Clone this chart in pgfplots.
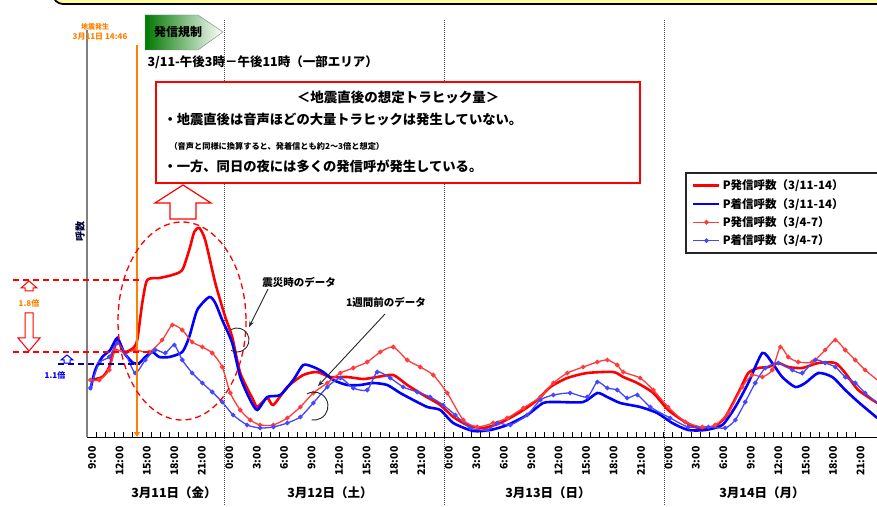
\documentclass[border=0pt]{standalone}
\usepackage{fontspec}
\setmainfont{Noto Sans CJK JP}
\usepackage{pgfplots}
\pgfplotsset{compat=1.18}
\usetikzlibrary{arrows.meta}
\definecolor{rthin}{RGB}{255,60,60}
\definecolor{bthin}{RGB}{70,70,255}
\definecolor{orng}{RGB}{255,128,0}
\definecolor{gfill}{RGB}{0,120,0}
\definecolor{ylw}{RGB}{255,255,153}
\newcommand{\fs}[1]{\fontsize{#1}{#1}\selectfont}
\begin{document}
\begin{tikzpicture}
\useasboundingbox (0,0) rectangle (877pt,506pt);
\clip (0,0) rectangle (877pt,506pt);
\begin{scope}[x=1pt,y=-1pt,yshift=506pt]
 \draw[line width=1.8pt, fill=ylw, rounded corners=10pt] (53,-40) rectangle (920,4);
 \foreach \xx in {224,444,664} \draw[densely dotted, line width=1pt, black!70] (\xx,20) -- (\xx,506);
 \draw[black!85, line width=1.6pt, fill=white] (686,173) rectangle (900,253);
\end{scope}
\begin{axis}[
 at={(87pt,69pt)}, anchor=south west,
 scale only axis, width=790pt, height=407pt,
 xmin=9, xmax=95.34, ymin=-5, ymax=402,
 axis x line=bottom, axis y line=left,
 x axis line style={-, black, line width=0.8pt},
 y axis line style={-, gray, line width=2pt},
 ytick=\empty,
 xtick={9,12,...,93},
 xticklabels={9:00,12:00,15:00,18:00,21:00,0:00,3:00,6:00,9:00,12:00,15:00,18:00,21:00,0:00,3:00,6:00,9:00,12:00,15:00,18:00,21:00,0:00,3:00,6:00,9:00,12:00,15:00,18:00,21:00},
 minor x tick num=2,
 tick align=inside,
 major tick length=5pt, minor tick length=5pt,
 tick style={black, line width=0.6pt},
 xticklabel style={font=\fs{10.5}\bfseries, xshift=5pt, rotate=90, anchor=east},
 xticklabel shift=6pt,
 legend style={at={(0.762,0.645)}, anchor=north west, draw=none, fill=none, font=\fs{11.5}\bfseries, row sep=3pt, inner sep=3pt},
 legend cell align=left,
 legend image code/.code={\draw[mark repeat=2,mark phase=2,#1] plot coordinates {(0pt,0pt) (13pt,0pt) (26pt,0pt)};},
]
\addplot[red, line width=2.6pt, smooth, tension=0.4] coordinates {
(9.36,52) (10.67,55) (11.43,65) (12.31,92) (13.07,80) (14.05,84) (14.49,92) (15.04,129) (15.58,152) (16.90,154) (18.32,157) (19.41,162) (20.17,182) (20.72,200) (21.27,204) (21.92,192) (23.02,149) (24.11,115) (24.87,95) (25.75,59) (27.17,32) (27.61,25) (28.70,34) (29.36,27) (30.89,45) (32.63,57) (34.16,60) (35.58,55) (37.44,55) (39.19,53) (40.72,55) (42.47,57) (44.00,47) (45.75,37) (47.61,27) (49.03,15) (50.56,7) (52.31,4) (54.16,9) (56.35,20) (58.21,32) (59.63,45) (61.49,54) (63.67,59) (66.51,60) (67.61,55) (69.14,49) (70.89,39) (72.52,22) (74.38,10) (75.80,4) (77.33,4) (78.75,15) (80.17,39) (81.27,59) (82.36,64) (83.45,65) (84.55,69) (85.64,65) (87.17,64) (88.92,69) (90.78,69) (91.87,59) (93.29,42) (95.37,29)};
\addlegendentry{P発信呼数（3/11-14）}
\addplot[blue, line width=2.6pt, smooth, tension=0.4] coordinates {
(9.36,42) (9.90,62) (10.67,75) (11.54,82) (12.31,94) (13.07,79) (14.05,69) (14.71,69) (15.37,75) (16.13,80) (16.90,75) (17.99,75) (19.41,80) (20.17,95) (21.05,122) (22.36,135) (23.02,129) (23.78,112) (24.87,89) (25.75,55) (26.84,32) (27.61,22) (28.70,35) (30.12,37) (31.54,52) (32.63,67) (33.73,65) (34.82,60) (35.91,52) (37.44,47) (38.86,47) (40.28,49) (41.81,47) (43.23,39) (44.66,32) (46.19,25) (47.61,22) (49.03,9) (51.21,1) (53.07,2) (54.93,7) (57.11,17) (58.86,29) (60.39,30) (63.23,30) (64.77,39) (65.86,35) (67.28,29) (69.46,25) (71.32,19) (72.96,9) (74.71,2) (76.57,2) (78.43,7) (79.85,25) (81.27,49) (82.80,79) (83.89,69) (84.98,55) (86.40,45) (87.50,49) (88.92,59) (90.45,55) (91.87,42) (93.29,30) (95.37,14)};
\addlegendentry{P着信呼数（3/11-14）}
\addplot[rthin, line width=1.3pt, smooth, tension=0.4, mark=*, mark size=1.6pt, mark options={solid, fill=rthin, draw=rthin}] coordinates {
(9.36,52) (10.34,52) (11.43,62) (12.09,82) (13.18,79) (14.27,82) (15.80,80) (17.22,92) (18.32,107) (19.41,102) (20.50,90) (21.60,85) (22.69,79) (23.78,65) (24.66,39) (25.75,22) (26.84,12) (27.93,7) (29.36,7) (30.89,14) (32.31,25) (33.73,39) (35.26,49) (36.68,59) (38.10,64) (39.63,70) (41.05,80) (42.47,85) (44.00,72) (45.42,65) (46.84,57) (48.37,39) (50.12,12) (51.65,5) (53.40,9) (54.93,14) (56.68,24) (58.54,35) (59.96,49) (61.49,59) (63.23,65) (64.77,70) (65.86,72) (66.95,67) (67.61,60) (69.46,54) (70.89,42) (72.52,25) (74.38,10) (76.24,5) (77.66,7) (79.08,19) (80.61,45) (81.70,57) (82.80,55) (83.89,62) (84.77,85) (85.64,75) (86.73,70) (88.26,70) (89.68,82) (90.78,92) (91.87,82) (92.96,72) (94.05,62) (95.37,52)};
\addlegendentry{P発信呼数（3/4-7）}
\addplot[bthin, line width=1.3pt, smooth, tension=0.4, mark=*, mark size=1.6pt, mark options={solid, fill=bthin, draw=bthin}] coordinates {
(9.36,44) (10.34,69) (11.43,75) (12.31,89) (13.18,79) (14.27,59) (15.37,72) (16.46,82) (17.55,79) (18.54,87) (19.41,72) (20.50,59) (21.60,49) (22.69,40) (23.78,30) (24.98,17) (26.51,7) (27.93,4) (29.36,5) (30.89,9) (32.31,15) (33.73,29) (35.26,45) (36.68,54) (38.10,44) (39.63,42) (40.72,60) (42.14,54) (43.56,45) (45.09,40) (46.51,35) (47.93,27) (49.25,17) (50.89,4) (52.74,2) (53.84,9) (55.26,7) (57.11,17) (58.54,32) (59.96,37) (61.81,39) (63.67,35) (64.77,50) (65.86,44) (66.95,42) (68.04,34) (69.14,37) (70.56,25) (72.74,14) (74.71,5) (76.90,5) (78.75,4) (79.85,12) (80.94,30) (82.03,49) (83.13,64) (84.55,69) (86.08,62) (87.17,59) (88.59,72) (89.68,69) (90.78,65) (91.87,55) (92.96,49) (94.05,39) (95.37,29)};
\addlegendentry{P着信呼数（3/4-7）}
\end{axis}
\begin{scope}[x=1pt,y=-1pt,yshift=506pt]
 \draw[orng, line width=1.3pt, -{Triangle[length=5pt,width=6pt]}] (137,45) -- (137,437);
 \node[orng, font=\fs{7}\bfseries] at (95,27) {地震発生};
 \node[orng, font=\fs{8}\bfseries] at (100,37) {3月11日 14:46};
 \shadedraw[left color=gfill, right color=white, draw=gray] (145,15) -- (198,15) -- (223,32) -- (198,50) -- (145,50) -- cycle;
 \node[font=\fs{12}\bfseries] at (178,32) {発信規制};
 \node[anchor=west, font=\fs{12.5}\bfseries] at (144,62) {3/11-午後3時－午後11時（一部エリア）};
 \draw[red, line width=1.5pt, fill=white] (156,82) rectangle (640,183);
 \node[font=\fs{13.5}\bfseries] at (398,97) {＜地震直後の想定トラヒック量＞};
 \node[anchor=west, font=\fs{13.3}\bfseries] at (160,119) {・地震直後は音声ほどの大量トラヒックは発生していない。};
 \node[anchor=west, font=\fs{8.2}\bfseries] at (166,146) {（音声と同様に換算すると、発着信とも約2～3倍と想定）};
 \node[anchor=west, font=\fs{13.3}\bfseries] at (160,166) {・一方、同日の夜には多くの発信呼が発生している。};
 \draw[red, line width=1.3pt, dash pattern=on 6pt off 4pt] (182,321) ellipse [x radius=64, y radius=99];
 \draw[red, line width=1.2pt, fill=white] (183,185) -- (211,203) -- (196,203) -- (196,219) -- (170,219) -- (170,203) -- (155,203) -- cycle;
 \draw[red, line width=1.3pt, dash pattern=on 6pt off 4pt] (13,280) -- (143,280);
 \draw[red, line width=1.3pt, dash pattern=on 6pt off 4pt] (13,352) -- (150,352);
 \draw[blue!70!black, line width=1.3pt, dash pattern=on 6pt off 4pt] (58,364) -- (140,364);
 \draw[red, line width=1pt, fill=white] (25,313) -- (33,313) -- (33,338) -- (40,338) -- (29,351) -- (18,338) -- (25,338) -- cycle;
 \draw[red, line width=1pt, fill=white] (29,281) -- (37,288) -- (33,288) -- (33,291) -- (25,291) -- (25,288) -- (21,288) -- cycle;
 \draw[blue, line width=1pt, fill=white] (67,355) -- (73,360) -- (70,360) -- (70,363) -- (64,363) -- (64,360) -- (61,360) -- cycle;
 \node[orng, font=\fs{8}\bfseries] at (29,303) {1.8倍};
 \node[blue, font=\fs{8}\bfseries] at (55,375) {1.1倍};
 \node[font=\fs{10.5}\bfseries] at (299,282) {震災時のデータ};
 \draw[black!85, line width=0.9pt, -{Stealth[length=6pt]}] (268,289) -- (249,327);
 \draw[black!85, line width=0.9pt] (231,329.6) arc[start angle=-120, end angle=120, radius=12];
 \node[font=\fs{10.5}\bfseries] at (386,302) {1週間前のデータ};
 \draw[black!85, line width=0.9pt, -{Stealth[length=6pt]}] (385,314) -- (318,386);
 \draw[black!85, line width=0.9pt] (307,393.9) arc[start angle=-120, end angle=100, radius=14];
 \node[font=\fs{12.5}\bfseries] at (174,493) {3月11日（金）};
 \node[font=\fs{12.5}\bfseries] at (330,493) {3月12日（土）};
 \node[font=\fs{12.5}\bfseries] at (548,493) {3月13日（日）};
 \node[font=\fs{12.5}\bfseries] at (762,493) {3月14日（月）};
 \node[rotate=90, font=\fs{10}\bfseries, black!80!blue] at (80,232) {呼数};
\end{scope}
\end{tikzpicture}
\end{document}
